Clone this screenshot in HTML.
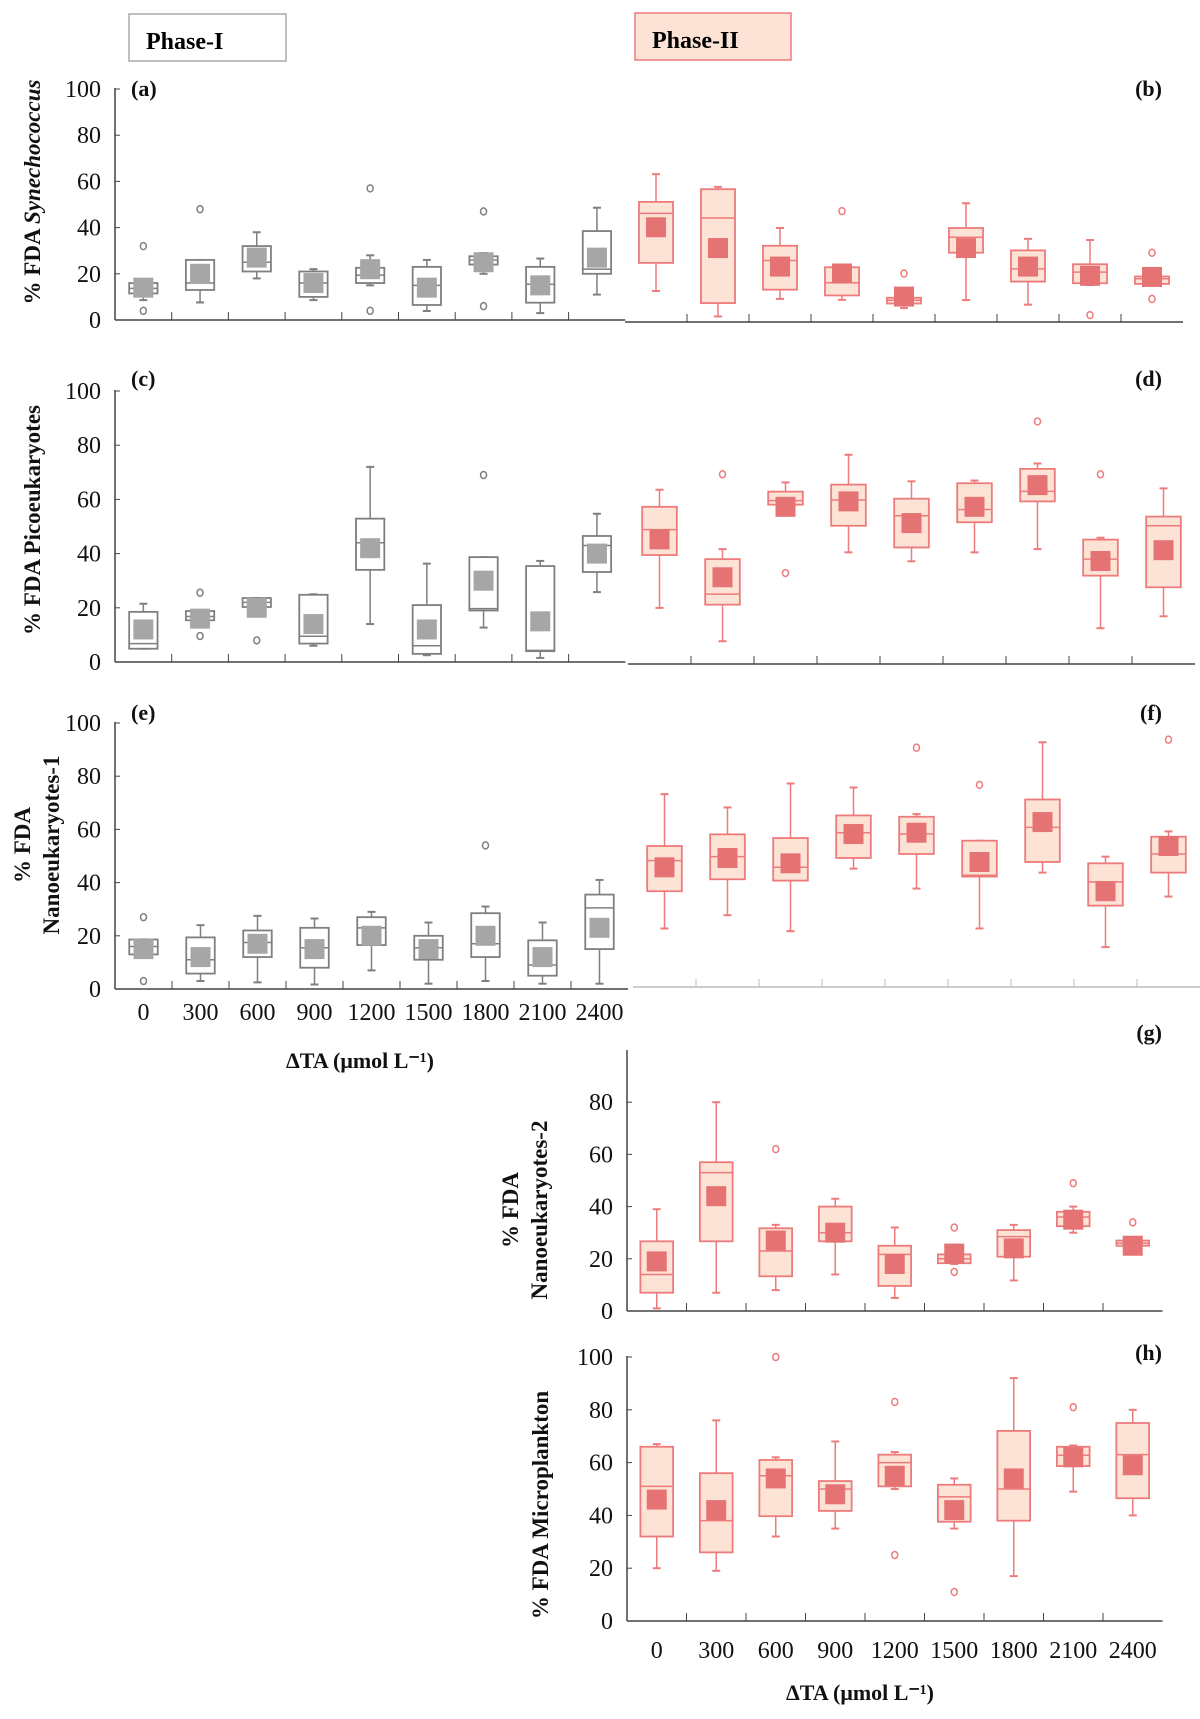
<!DOCTYPE html>
<html><head><meta charset="utf-8">
<style>
html,body{margin:0;padding:0;background:#fff;}
svg{display:block;font-family:"Liberation Serif",serif;}
</style></head>
<body>
<svg id="chart" width="1200" height="1719" viewBox="0 0 1200 1719" xmlns="http://www.w3.org/2000/svg">
  <rect x="129" y="14" width="157" height="47" fill="#fff" stroke="#aaa" stroke-width="1.5"/>
  <text x="146" y="49" font-size="24" font-weight="bold">Phase-I</text>
  <rect x="635" y="13" width="156" height="47" fill="#fde3d6" stroke="#ee7b7b" stroke-width="1.5"/>
  <text x="652" y="48" font-size="24" font-weight="bold">Phase-II</text>
</svg>
<script>
const categories = ["0","300","600","900","1200","1500","1800","2100","2400"];
const yTicks = [0,20,40,60,80,100];
const yTicksG = [0,20,40,60,80];

// Panel (a) Synechococcus, Phase I
const aLow=[8.6,7.6,18,8.6,15,3.9,20,3,11];
const aQ1=[11.5,13,21,10,16,6.5,24,7.5,20];
const aMed=[13.7,16,25,16,19.4,15,26,15.5,22];
const aQ3=[16,26,32,21,22.6,23,27.6,23,38.5];
const aHigh=[17.7,26,38,22,28,26,29,26.6,48.6];
const aMean=[14,20,27,16,22,14,25,15,27];
const aOut=[[32,4],[48],[],[],[57,4],[],[47,6],[],[]];
// Panel (b) Synechococcus, Phase II
const bLow=[13.4,2.4,10,9.6,6,9.5,7.5,16,16];
const bQ1=[25.6,8.2,14,11.5,8,30,17.5,16.8,16.5];
const bMed=[47,45,26.6,17,9.4,36.7,23,21.6,18.7];
const bQ3=[52,57.5,33,23.7,10.5,40.7,31,25,19.7];
const bHigh=[64,58.5,40.7,23.7,10.5,51.4,36,35.5,19.7];
const bMean=[41,32,24,21,11,32,24,20,19.5];
const bOut=[[],[],[],[48],[21],[],[],[3],[30,10]];
// Panel (c) Picoeukaryotes, Phase I
const cLow=[4.9,15,20,6,14,2.5,12.7,1.5,25.8];
const cQ1=[4.9,15.4,20.3,6.8,34,3,19,4,33.2];
const cMed=[6.8,16.8,22,9.5,44,6,19.7,4.3,43];
const cQ3=[18.5,18.8,23.6,24.8,52.9,21,38.7,35.4,46.5];
const cHigh=[21.5,19,23.6,25,72,36.3,38.7,37.3,54.7];
const cMean=[12,16,20,14,42,12,30,15,40];
const cOut=[[],[25.6,9.6],[8],[],[],[],[69],[],[]];
// Panel (d) Picoeukaryotes, Phase II
const dLow=[20.7,8.4,58.8,41.2,37.9,41.2,42.4,13.2,17.6];
const dQ1=[40.2,21.9,58.8,51,43,52.3,60,32.6,28.3];
const dMed=[49.6,25.8,60.3,60.5,54.7,57,63.7,38.7,51];
const dQ3=[58,38.7,63.6,66.2,61,66.7,72,45.9,54.4];
const dHigh=[64.3,42.4,67,77.2,67.4,67.7,74,46.6,64.8];
const dMean=[46,32,58,60,52,58,66,38,42];
const dOut=[[],[70],[33.6],[],[],[],[89.5],[70],[]];
// Panel (e) Nanoeukaryotes-1, Phase I
const eLow=[13,3,2.5,1.7,7,2,3,2,2];
const eQ1=[13,5.8,12,8,16.5,11,12,5,15];
const eMed=[16,11,17.5,15.5,23,15.5,17,9,30.5];
const eQ3=[18.6,19.4,22,23,27,20,28.5,18.3,35.5];
const eHigh=[18.6,24,27.5,26.5,29,25,31,25,41];
const eMean=[15,12,17,15,20,15,20,12,23];
const eOut=[[27,3],[],[],[],[],[],[54],[],[]];
// Panel (f) Nanoeukaryotes-1, Phase II
const fLow=[22,27,21,44.5,37,22,43,15,34];
const fQ1=[36,40.5,40,48.5,50,41.5,47,30.6,43];
const fMed=[47.5,49,45,58,57.5,42,60,39.5,50];
const fQ3=[53,57.4,56,64.5,64,55,70.5,46.5,56.5];
const fHigh=[72.5,67.5,76.5,75,65,55,92,49,58.5];
const fMean=[45,48.5,46.5,57.5,58,47,62,36,53];
const fOut=[[],[],[],[],[90],[76],[],[],[93]];
// Panel (g) Nanoeukaryotes-2, Phase II
const gLow=[1,7,8,14,5,18,11.7,30,25];
const gQ1=[7,26.7,13.3,26.7,9.6,18.3,20.8,32.5,25];
const gMed=[14,53,23,30,21.7,20,28.5,36,26];
const gQ3=[26.7,57,31.7,40,25,21.7,31,38,27];
const gHigh=[39,80,33,43,32,22,33,40,27];
const gMean=[19,44,27,30,18,22,24,35,25];
const gOut=[[],[],[62],[],[],[32,15],[],[49],[34]];
// Panel (h) Microplankton, Phase II
const hLow=[20,19,32,35,50,35,17,49,40];
const hQ1=[32,26,39.7,41.7,51,37.6,38,58.7,46.5];
const hMed=[51,38,55,50,60,47,50,62.8,63];
const hQ3=[66,56,61,53,63,51.6,72,66,75];
const hHigh=[67,76,62,68,64,54,92,66.5,80];
const hMean=[46,42,54,48,55,42,54,62,59];
const hOut=[[],[],[100],[],[83,25],[11],[],[81],[]];

const NS="http://www.w3.org/2000/svg";
const svg=document.getElementById("chart");
function mk(tag,attrs,parent){const e=document.createElementNS(NS,tag);for(const k in attrs)e.setAttribute(k,attrs[k]);(parent||svg).appendChild(e);return e;}

const GRAY={stroke:"#7f7f7f",fill:"#ffffff",mean:"#a6a6a6"};
const PINK={stroke:"#ee7b7b",fill:"#fde3d6",mean:"#e57373"};

function drawSeries(p){
  const g=mk("g",{});
  
  
  const y=v=>p.y0-v*(p.y0-p.y100)/100;
  const c=p.color;
  for(let i=0;i<categories.length;i++){
    const cx=p.x0+p.cw*(i+0.5);
    const bw=p.cw*p.bwf;
    const bg=mk("g",{},g);
    
    
    mk("line",{x1:cx,x2:cx,y1:y(p.low[i]),y2:y(p.high[i]),stroke:c.stroke,"stroke-width":1.5},bg);
    mk("line",{x1:cx-4,x2:cx+4,y1:y(p.low[i]),y2:y(p.low[i]),stroke:c.stroke,"stroke-width":2},bg);
    mk("line",{x1:cx-4,x2:cx+4,y1:y(p.high[i]),y2:y(p.high[i]),stroke:c.stroke,"stroke-width":2},bg);
    mk("rect",{x:cx-bw/2,y:y(p.q3[i]),width:bw,height:Math.max(1,y(p.q1[i])-y(p.q3[i])),fill:c.fill,stroke:c.stroke,"stroke-width":1.8},bg);
    mk("line",{x1:cx-bw/2,x2:cx+bw/2,y1:y(p.med[i]),y2:y(p.med[i]),stroke:c.stroke,"stroke-width":1.5},bg);
    const m=mk("rect",{x:cx-10,y:y(p.mean[i])-10,width:20,height:20,fill:c.mean},bg);
    
    
    p.out[i].forEach(v=>{
      const o=mk("ellipse",{cx:cx,cy:y(v),rx:3,ry:3.5,fill:"none",stroke:c.stroke,"stroke-width":1.5},bg);
      
      
    });
  }
  const ax=mk("g",{},g);
  
  
  mk("line",{x1:p.x0,x2:p.x0+p.cw*9,y1:p.y0,y2:p.y0,stroke:p.axisColor||"#444","stroke-width":1.5},ax);
  for(let i=1;i<9;i++){
    const tx=p.x0+p.cw*i;
    mk("line",{x1:tx,x2:tx,y1:p.y0,y2:p.y0-8,stroke:p.axisColor||"#444","stroke-width":1},ax);
  }
}

function yAxis(name,x,y0,y100,ticks,top){
  const g=mk("g",{});
  
  
  const y=v=>y0-v*(y0-y100)/100;
  mk("line",{x1:x,x2:x,y1:top,y2:y0,stroke:"#444","stroke-width":1.5},g);
  ticks.forEach(t=>{
    mk("line",{x1:x,x2:x+5,y1:y(t),y2:y(t),stroke:"#444","stroke-width":1},g);
    const tx=mk("text",{x:x-14,y:y(t)+8,"font-size":24,"text-anchor":"end",fill:"#111"},g);
    tx.textContent=t;
  });
}
function label(name,x,y,txt,anchor){
  const t=mk("text",{x:x,y:y,"font-size":22,"font-weight":"bold","text-anchor":anchor||"start",fill:"#111"});
  
  
  t.textContent=txt;return t;
}
function xLabels(name,x0,cw,yy){
  const g=mk("g",{});
  
  
  categories.forEach((c,i)=>{const t=mk("text",{x:x0+cw*(i+0.5),y:yy,"font-size":24,"text-anchor":"middle",fill:"#111"},g);t.textContent=c;});
}
function yTitle(name,cx,cy,lines){
  const t=mk("text",{transform:`translate(${cx},${cy}) rotate(-90)`,"font-size":23,"font-weight":"bold","text-anchor":"middle",fill:"#111"});
  
  
  lines.forEach((l,i)=>{const s=mk("tspan",{x:0,dy:i?29:0},t);s.innerHTML=l;});
}

yAxis("y-axis-a",115,320,89,yTicks,88);
drawSeries({name:"synechococcus-phase-i",x0:115,cw:56.7,y0:320,y100:89,bwf:0.5,color:GRAY,low:aLow,q1:aQ1,med:aMed,q3:aQ3,high:aHigh,mean:aMean,out:aOut});
drawSeries({name:"synechococcus-phase-ii",x0:625,cw:62,y0:322,y100:91,bwf:0.55,color:PINK,low:bLow,q1:bQ1,med:bMed,q3:bQ3,high:bHigh,mean:bMean,out:bOut});
label("panel-label-a",131,96,"(a)");label("panel-label-b",1162,96,"(b)","end");
yTitle("y-axis-title-a",40,192,['% FDA  <tspan font-style="italic">Synechococcus</tspan>']);

yAxis("y-axis-c",115,662,391,yTicks,390);
drawSeries({name:"picoeukaryotes-phase-i",x0:115,cw:56.7,y0:662,y100:391,bwf:0.5,color:GRAY,low:cLow,q1:cQ1,med:cMed,q3:cQ3,high:cHigh,mean:cMean,out:cOut});
drawSeries({name:"picoeukaryotes-phase-ii",x0:628,cw:63,y0:664,y100:393,bwf:0.55,color:PINK,low:dLow,q1:dQ1,med:dMed,q3:dQ3,high:dHigh,mean:dMean,out:dOut});
label("panel-label-c",131,386,"(c)");label("panel-label-d",1162,386,"(d)","end");
yTitle("y-axis-title-c",40,520,['% FDA  Picoeukaryotes']);

yAxis("y-axis-e",115,989,723,yTicks,722);
drawSeries({name:"nanoeukaryotes1-phase-i",x0:115,cw:57,y0:989,y100:723,bwf:0.5,color:GRAY,low:eLow,q1:eQ1,med:eMed,q3:eQ3,high:eHigh,mean:eMean,out:eOut});
drawSeries({name:"nanoeukaryotes1-phase-ii",x0:633,cw:63,y0:987,y100:721,bwf:0.55,color:PINK,axisColor:"#bbb",low:fLow,q1:fQ1,med:fMed,q3:fQ3,high:fHigh,mean:fMean,out:fOut});
label("panel-label-e",131,720,"(e)");label("panel-label-f",1162,720,"(f)","end");
yTitle("y-axis-title-e",30,845,['% FDA','Nanoeukaryotes-1']);
xLabels("x-tick-labels-e",115,57,1020);
label("x-axis-title-e",360,1068,"ΔTA (μmol L⁻¹)","middle");

yAxis("y-axis-g",627,1311,1050,yTicksG,1050);
drawSeries({name:"nanoeukaryotes2-phase-ii",x0:627,cw:59.5,y0:1311,y100:1050,bwf:0.55,color:PINK,low:gLow,q1:gQ1,med:gMed,q3:gQ3,high:gHigh,mean:gMean,out:gOut});
label("panel-label-g",1162,1040,"(g)","end");
yTitle("y-axis-title-g",518,1210,['% FDA','Nanoeukaryotes-2']);

yAxis("y-axis-h",627,1621,1357,yTicks,1356);
drawSeries({name:"microplankton-phase-ii",x0:627,cw:59.5,y0:1621,y100:1357,bwf:0.55,color:PINK,low:hLow,q1:hQ1,med:hMed,q3:hQ3,high:hHigh,mean:hMean,out:hOut});
label("panel-label-h",1162,1360,"(h)","end");
yTitle("y-axis-title-h",548,1505,['% FDA Microplankton']);
xLabels("x-tick-labels-h",627,59.5,1658);
label("x-axis-title-h",860,1700,"ΔTA (μmol L⁻¹)","middle");
</script>
</body></html>
